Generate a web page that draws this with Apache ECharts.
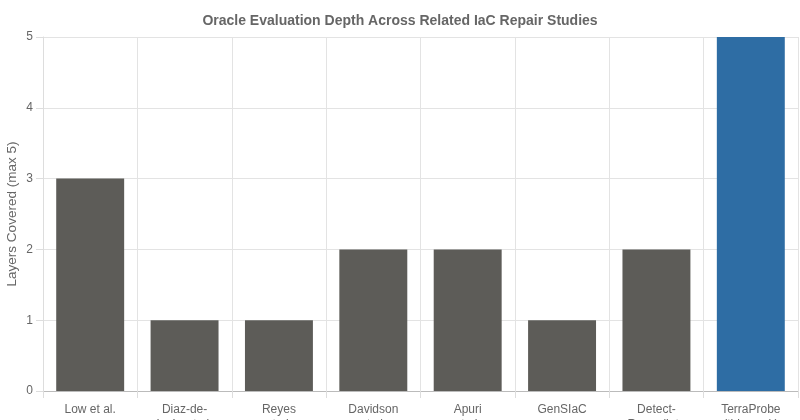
<!DOCTYPE html>
<html>
<head>
<meta charset="utf-8">
<script src="https://cdn.jsdelivr.net/npm/echarts@6/dist/echarts.min.js"></script>
<style>
  html, body { margin: 0; padding: 0; background: #fff; }
  #chart { width: 800px; height: 420px; }
</style>
</head>
<body>
<div id="chart"></div>
<script>
const studies = ['Low et al.', 'Diaz-de-\nLeón et al.', 'Reyes\net al.', 'Davidson\net al.', 'Apuri\net al.', 'GenSIaC', 'Detect-\nRemediate', 'TerraProbe\n(this work)'];
const layersCovered = [3, 1, 1, 2, 2, 1, 2, 5];
const highlightIndex = 7;

const myChart = echarts.init(document.getElementById('chart'));

const option = {
  animation: false,
  textStyle: { fontFamily: 'Liberation Sans, Arial, sans-serif' },
  title: {
    text: 'Oracle Evaluation Depth Across Related IaC Repair Studies',
    left: 'center',
    top: 9,
    textStyle: { fontSize: 14, fontWeight: 'bold', color: '#666' }
  },
  grid: { left: 43, right: 2, top: 37, bottom: 29, containLabel: false, outerBoundsMode: 'none' },
  xAxis: {
    type: 'category',
    data: studies,
    axisLine: { lineStyle: { color: '#bbb' } },
    axisTick: { show: true, length: 7, lineStyle: { color: '#ddd' } },
    splitLine: { show: true, lineStyle: { color: '#e3e3e3' } },
    axisLabel: { color: '#666', fontSize: 12, margin: 11, lineHeight: 15 }
  },
  yAxis: {
    type: 'value',
    min: 0,
    max: 5,
    interval: 1,
    name: 'Layers Covered (max 5)',
    nameLocation: 'middle',
    nameGap: 24,
    nameMoveOverlap: false,
    nameTextStyle: { color: '#666', fontSize: 13.5 },
    axisLine: { show: true, lineStyle: { color: '#ddd' } },
    axisTick: { show: true, length: 7, lineStyle: { color: '#ddd' } },
    splitLine: { lineStyle: { color: '#e3e3e3' } },
    axisLabel: { color: '#666', fontSize: 12, margin: 10 }
  },
  series: [{
    type: 'bar',
    data: layersCovered.map((v, i) => ({
      value: v,
      itemStyle: { color: i === highlightIndex ? '#2e6da4' : '#5d5c58' }
    })),
    barCategoryGap: '28%'
  }]
};

myChart.setOption(option);
</script>
</body>
</html>
